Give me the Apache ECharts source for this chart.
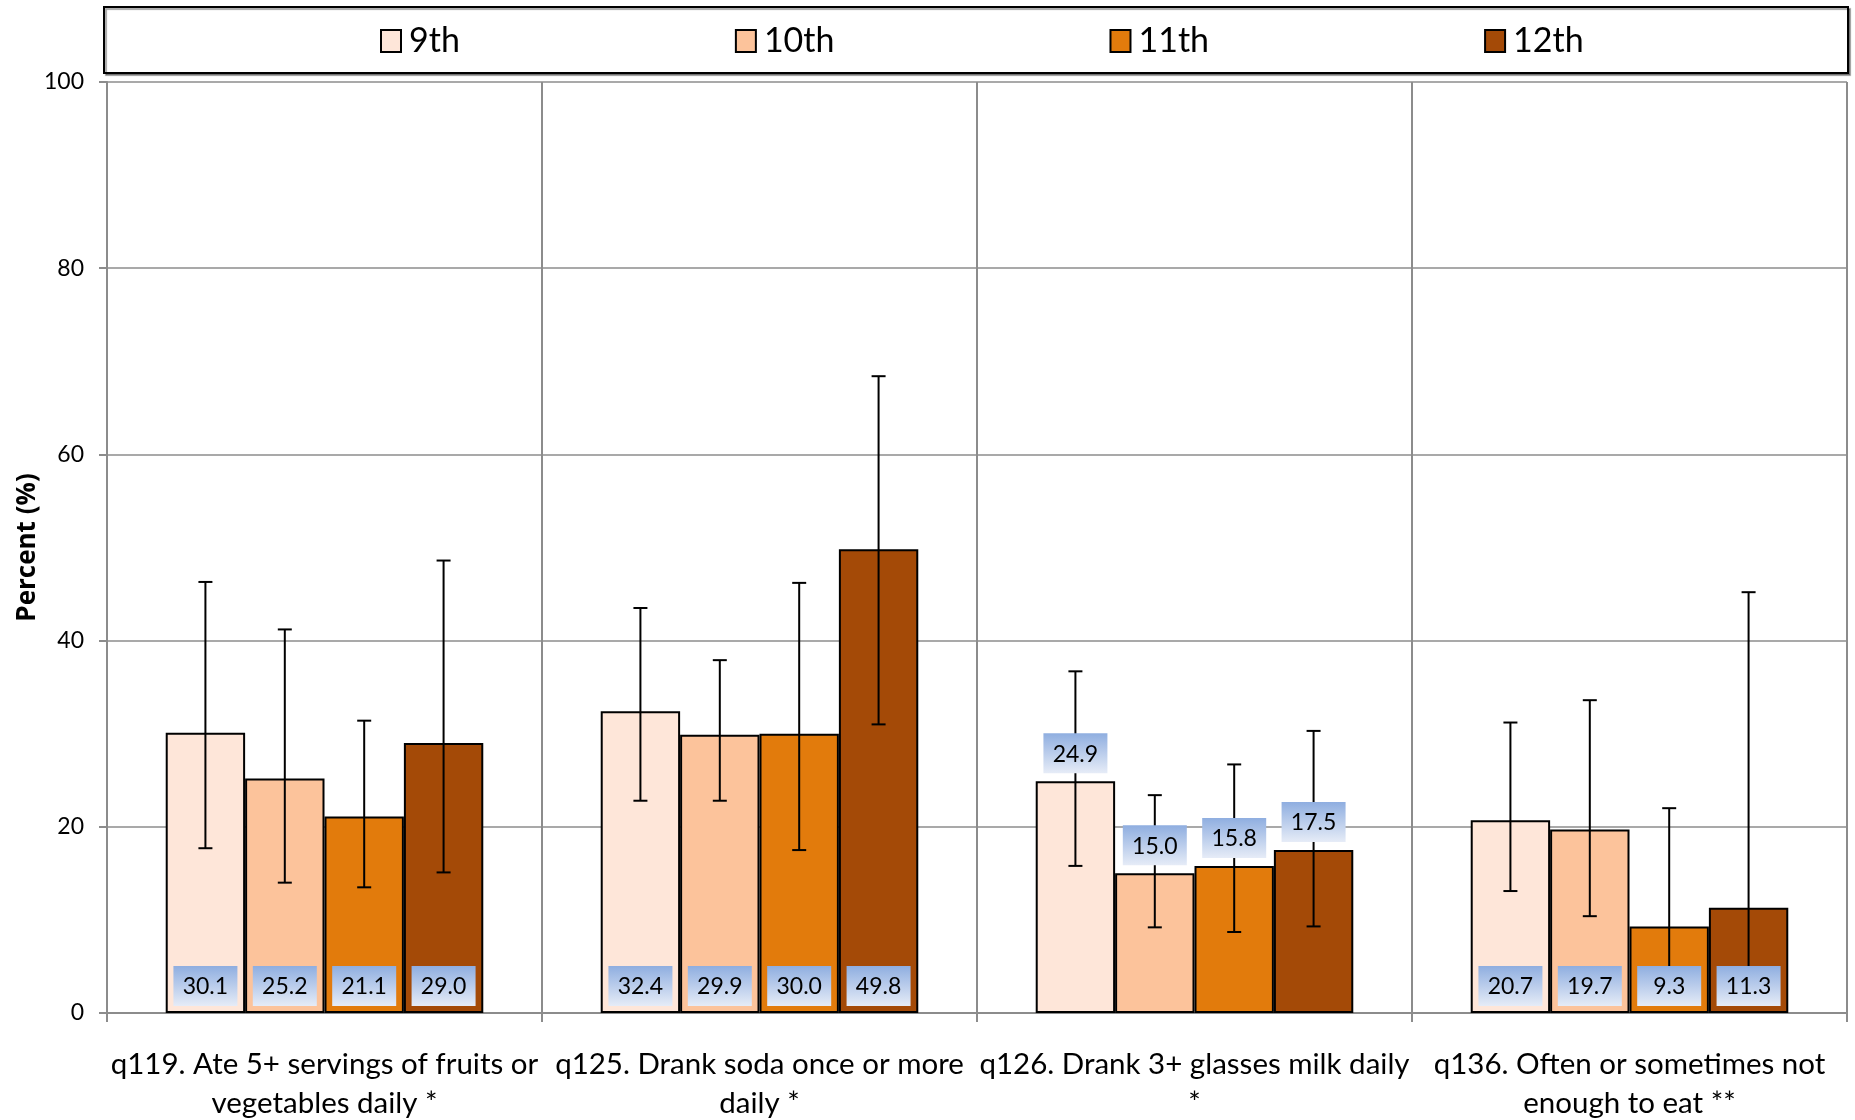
<!DOCTYPE html>
<html>
<head>
<meta charset="utf-8">
<script src="https://cdn.jsdelivr.net/npm/echarts@6/dist/echarts.min.js"></script>
<style>
html,body{margin:0;padding:0;background:#fff;}
#chart{width:1855px;height:1120px;}
</style>
</head>
<body>
<div id="chart"></div>
<script>
const categories = [
  'q119. Ate 5+ servings of fruits or\nvegetables daily *',
  'q125. Drank soda once or more\ndaily *',
  'q126. Drank 3+ glasses milk daily\n*',
  'q136. Often or sometimes not\nenough to eat **'
];
const grades = ['9th', '10th', '11th', '12th'];
const yTicks = [0, 20, 40, 60, 80, 100];

const grade9  = [30.1, 32.4, 24.9, 20.7];
const grade10 = [25.2, 29.9, 15.0, 19.7];
const grade11 = [21.1, 30.0, 15.8, 9.3];
const grade12 = [29.0, 49.8, 17.5, 11.3];

const lower9  = [17.7, 22.8, 15.8, 13.1];
const upper9  = [46.3, 43.5, 36.7, 31.2];
const lower10 = [14.0, 22.8, 9.2, 10.4];
const upper10 = [41.2, 37.9, 23.4, 33.6];
const lower11 = [13.5, 17.5, 8.7, 3.0];
const upper11 = [31.4, 46.2, 26.7, 22.0];
const lower12 = [15.1, 31.0, 9.3, 3.0];
const upper12 = [48.6, 68.4, 30.3, 45.2];

const values = [grade9, grade10, grade11, grade12];
const lowers = [lower9, lower10, lower11, lower12];
const uppers = [upper9, upper10, upper11, upper12];
const colors = ['#FEE6D9', '#FCC39B', '#E27B0C', '#A44A07'];
const labelAboveBar = [false, false, true, false];

const GAP = 0.27;

function makeRender(si) {
  return function (params, api) {
    const ci = api.value(0);
    const v = api.value(1), lo = api.value(2), hi = api.value(3);
    const band = api.size([1, 0])[0];
    const bw = band * (1 - GAP) / 4;
    const base = api.coord([ci, 0]);
    const cx = base[0] - 2 * bw + (si + 0.5) * bw;
    const yTop = api.coord([ci, v])[1];
    const yHi = api.coord([ci, hi])[1];
    const yLo = api.coord([ci, lo])[1];
    const cap = 7;
    const ls = { stroke: '#000', lineWidth: 2 };
    const children = [
      { type: 'line', shape: { x1: cx, y1: yHi, x2: cx, y2: yLo }, style: ls },
      { type: 'line', shape: { x1: cx - cap, y1: yHi, x2: cx + cap, y2: yHi }, style: ls },
      { type: 'line', shape: { x1: cx - cap, y1: yLo, x2: cx + cap, y2: yLo }, style: ls }
    ];
    const boxW = 64, boxH = 40;
    const boxBottom = labelAboveBar[ci] ? yTop - 8 : base[1] - 7;
    children.push({
      type: 'rect',
      shape: { x: cx - boxW / 2, y: boxBottom - boxH, width: boxW, height: boxH },
      style: {
        fill: new echarts.graphic.LinearGradient(0, 0, 0, 1, [
          { offset: 0, color: '#8FAEE0' },
          { offset: 1, color: '#E6ECF7' }
        ])
      }
    });
    children.push({
      type: 'text',
      style: {
        text: v.toFixed(1),
        x: cx, y: boxBottom - boxH / 2 + 1,
        align: 'center', verticalAlign: 'middle',
        fill: '#000',
        font: '23px Lato'
      }
    });
    return { type: 'group', children: children };
  };
}

const series = [];
grades.forEach(function (g, si) {
  series.push({
    name: g,
    type: 'bar',
    data: values[si],
    barGap: '0%',
    barCategoryGap: (GAP * 100) + '%',
    z: 2,
    itemStyle: { color: colors[si], borderColor: '#000', borderWidth: 2 }
  });
});
grades.forEach(function (g, si) {
  series.push({
    name: g + ' CI',
    type: 'custom',
    z: 5,
    renderItem: makeRender(si),
    data: values[si].map(function (v, ci) { return [ci, v, lowers[si][ci], uppers[si][ci]]; })
  });
});

const chart = echarts.init(document.getElementById('chart'), null, { renderer: 'canvas' });
chart.setOption({
  animation: false,
  backgroundColor: '#fff',
  graphic: [{
    type: 'rect',
    shape: { x: 104, y: 7, width: 1744, height: 66 },
    style: { fill: '#fff', stroke: '#000', lineWidth: 2, shadowColor: 'rgba(0,0,0,0.35)', shadowOffsetX: 2, shadowOffsetY: 2, shadowBlur: 1 },
    z: -1
  }],
  legend: {
    data: grades,
    left: 375,
    top: 19,
    itemGap: 275,
    itemWidth: 20,
    itemHeight: 22,
    icon: 'rect',
    textStyle: { fontFamily: 'Lato', fontSize: 34, color: '#000', padding: [0, 0, 0, 3] }
  },
  grid: { left: 107, right: 8, top: 82, bottom: 107, containLabel: false, outerBoundsMode: 'none' },
  xAxis: {
    type: 'category',
    data: categories,
    axisLine: { lineStyle: { color: '#8c8c8c', width: 2 } },
    axisTick: { show: true, length: 9, lineStyle: { color: '#8c8c8c', width: 2 } },
    splitLine: { show: true, lineStyle: { color: '#8c8c8c', width: 2 } },
    axisLabel: { interval: 0, margin: 32, fontFamily: 'Lato', fontSize: 29.5, lineHeight: 39, color: '#000', align: 'center' }
  },
  yAxis: {
    type: 'value',
    min: yTicks[0],
    max: yTicks[yTicks.length - 1],
    interval: yTicks[1] - yTicks[0],
    name: 'Percent (%)',
    nameLocation: 'middle',
    nameRotate: 90,
    nameGap: 66,
    nameMoveOverlap: false,
    nameTextStyle: { fontFamily: 'Open Sans', fontWeight: 'bold', fontSize: 26, color: '#000' },
    axisLine: { show: true, lineStyle: { color: '#8c8c8c', width: 2 } },
    axisTick: { show: true, length: 8, lineStyle: { color: '#8c8c8c', width: 2 } },
    splitLine: { show: true, lineStyle: { color: '#8c8c8c', width: 1.5 } },
    axisLabel: { margin: 23, fontFamily: 'Lato', fontSize: 23, color: '#000' }
  },
  series: series
});
</script>
</body>
</html>
